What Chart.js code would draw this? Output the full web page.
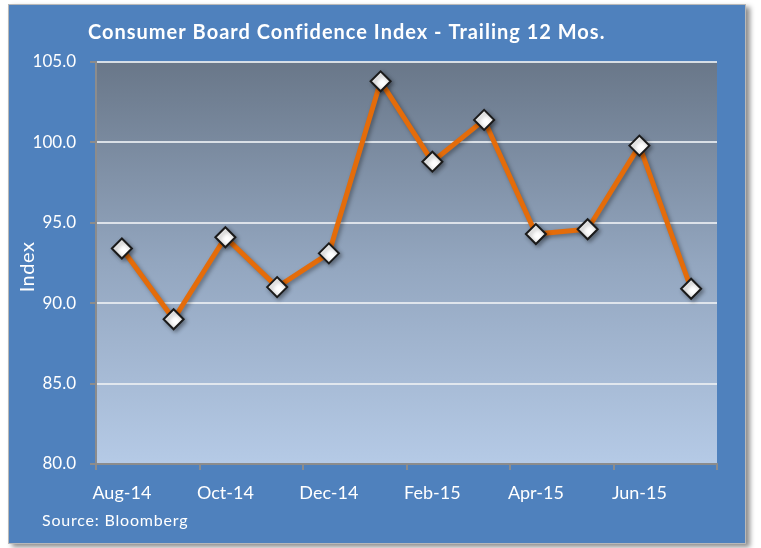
<!DOCTYPE html>
<html>
<head>
<meta charset="utf-8">
<script src="https://cdn.jsdelivr.net/npm/chart.js@4"></script>
<style>
  html, body { margin: 0; padding: 0; background: #ffffff; }
  #panel {
    position: absolute; left: 8px; top: 4px; width: 736px; height: 538px;
    background: #4f81bd; border: 1px solid #b8b8b8;
    box-shadow: 4px 3px 5px rgba(0,0,0,0.45);
  }
  #chart { display: block; }
</style>
</head>
<body>
<div id="panel"><canvas id="chart" width="736" height="538"></canvas></div>
<script>
// ── DATA ─────────────────────────────────────
const months = ['Aug-14', 'Sep-14', 'Oct-14', 'Nov-14', 'Dec-14', 'Jan-15',
                'Feb-15', 'Mar-15', 'Apr-15', 'May-15', 'Jun-15', 'Jul-15'];
const confidence = [93.4, 89.0, 94.1, 91.0, 93.1, 103.8, 98.8, 101.4, 94.3, 94.6, 99.8, 90.9];
const yTicks = [80, 85, 90, 95, 100, 105];

const FONT = 'Lato, "Open Sans", sans-serif';
const AXIS_GREY = '#8c8c8c';

// plot area in canvas coords
const AREA = { left: 87, top: 57, right: 708, bottom: 459 };

const decorations = {
  id: 'decorations',
  beforeDraw(chart) {
    const { ctx, chartArea: a } = chart;
    const g = ctx.createLinearGradient(0, a.top, 0, a.bottom);
    g.addColorStop(0, '#697789');
    g.addColorStop(0.5, '#93a6bf');
    g.addColorStop(1, '#b5cae6');
    ctx.save();
    ctx.fillStyle = g;
    ctx.fillRect(a.left, a.top, a.right - a.left, a.bottom - a.top);
    ctx.restore();
  },
  beforeDatasetsDraw(chart) {
    const c = chart.ctx;
    c.save();
    c.shadowColor = 'rgba(0,0,0,0.35)';
    c.shadowBlur = 4;
    c.shadowOffsetX = 2;
    c.shadowOffsetY = 2;
  },
  afterDatasetsDraw(chart) {
    chart.ctx.restore();
  },
  afterDraw(chart) {
    const c = chart.ctx;
    c.save();
    c.fillStyle = '#ffffff';
    c.textBaseline = 'middle';
    c.font = 'bold 20px ' + FONT;
    c.letterSpacing = '1px';
    c.textAlign = 'left';
    c.fillText('Consumer Board Confidence Index - Trailing 12 Mos.', 79, 28);
    c.font = '16px ' + FONT;
    c.letterSpacing = '0.8px';
    c.fillText('Source: Bloomberg', 33, 516);
    c.translate(19, 262);
    c.rotate(-Math.PI / 2);
    c.textAlign = 'center';
    c.font = '20px ' + FONT;
    c.letterSpacing = '0.5px';
    c.fillText('Index', 0, 0);
    c.restore();
  }
};

new Chart(document.getElementById('chart'), {
  type: 'line',
  data: {
    labels: months,
    datasets: [{
      data: confidence,
      borderColor: '#e46c0a',
      borderWidth: 5,
      tension: 0,
      pointStyle: 'rectRot',
      pointRadius: 10,
      pointBorderWidth: 2,
      pointBorderColor: '#1a1a1a',
      pointBackgroundColor: '#ffffff'
    }]
  },
  options: {
    responsive: false,
    animation: false,
    layout: { padding: { top: AREA.top, right: 736 - AREA.right, bottom: 0, left: 0 } },
    plugins: { legend: { display: false }, tooltip: { enabled: false }, title: { display: false } },
    scales: {
      x: {
        offset: true,
        grid: {
          offset: true,
          drawOnChartArea: false,
          tickLength: 6,
          lineWidth: 2,
          color: c => (c.index === undefined || c.index % 2 === 0) ? AXIS_GREY : 'rgba(0,0,0,0)'
        },
        border: { color: AXIS_GREY, width: 2 },
        ticks: {
          autoSkip: false, maxRotation: 0, padding: 12,
          color: '#ffffff', font: { family: FONT, size: 18 },
          callback: (v, i) => i % 2 === 0 ? months[i] : ''
        },
        afterFit: s => { s.height = 538 - AREA.bottom; }
      },
      y: {
        min: yTicks[0], max: yTicks[yTicks.length - 1],
        afterBuildTicks: s => { s.ticks = yTicks.map(v => ({ value: v })); },
        grid: { color: 'rgba(235,238,242,0.85)', lineWidth: 2, tickLength: 6, tickColor: AXIS_GREY },
        border: { color: AXIS_GREY, width: 2 },
        ticks: {
          padding: 14, color: '#ffffff', font: { family: FONT, size: 17 },
          callback: v => v.toFixed(1)
        },
        afterFit: s => { s.width = AREA.left; }
      }
    }
  },
  plugins: [decorations]
});
</script>
</body>
</html>
